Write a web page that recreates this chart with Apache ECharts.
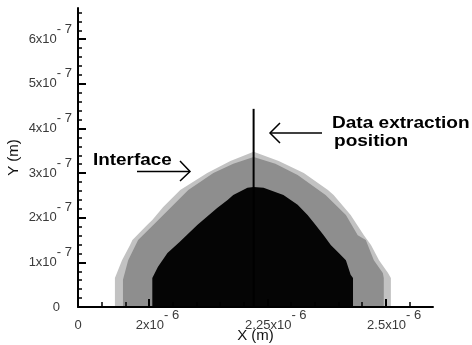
<!DOCTYPE html>
<html><head><meta charset="utf-8">
<script src="https://cdn.jsdelivr.net/npm/echarts@6/dist/echarts.min.js"></script>
<style>html,body{margin:0;padding:0;background:#fff}#c{width:472px;height:345px}</style>
</head><body><div id="c"></div>
<script>
// Units: X in 1e-6 m, Y in 1e-7 m
const outerX = [1.928, 1.928, 1.943, 1.960, 1.965, 1.996, 2.007, 2.030, 2.066, 2.123, 2.172, 2.221, 2.274, 2.327, 2.378, 2.390, 2.426, 2.454, 2.469, 2.486, 2.505, 2.511, 2.511];
const outerY = [0.00, 0.65, 1.05, 1.39, 1.50, 1.84, 1.95, 2.24, 2.62, 3.00, 3.27, 3.48, 3.27, 3.00, 2.62, 2.51, 2.06, 1.61, 1.39, 1.05, 0.76, 0.65, 0.00];

const middleX = [1.945, 1.945, 1.956, 1.977, 2.009, 2.045, 2.083, 2.115, 2.136, 2.178, 2.221, 2.267, 2.314, 2.373, 2.416, 2.441, 2.458, 2.475, 2.494, 2.496, 2.496];
const middleY = [0.00, 0.61, 1.05, 1.50, 1.84, 2.22, 2.62, 2.85, 3.00, 3.21, 3.36, 3.21, 2.96, 2.51, 2.06, 1.61, 1.50, 1.05, 0.76, 0.65, 0.00];

const innerX = [2.007, 2.007, 2.019, 2.039, 2.064, 2.102, 2.144, 2.166, 2.178, 2.208, 2.221, 2.242, 2.284, 2.314, 2.335, 2.352, 2.369, 2.384, 2.401, 2.416, 2.426, 2.431, 2.431];
const innerY = [0.00, 0.65, 0.90, 1.21, 1.45, 1.84, 2.22, 2.40, 2.51, 2.67, 2.69, 2.67, 2.51, 2.29, 2.06, 1.84, 1.61, 1.39, 1.21, 1.05, 0.72, 0.65, 0.00];

const probeX = [2.221, 2.221];
const probeY = [0.00, 4.44];

const xTickValues = [1.85, 2.0, 2.25, 2.5];
const xTickLabels = [['0', ''], ['2x10', '- 6'], ['2.25x10', '- 6'], ['2.5x10', '- 6']];
const xMajorTicks = [2.0, 2.25, 2.5];
const xMinorTicks = [1.9, 1.95, 2.05, 2.1, 2.15, 2.2, 2.3, 2.35, 2.4, 2.45, 2.55];

const yTickValues = [0, 1, 2, 3, 4, 5, 6];
const yTickLabels = [['0', ''], ['1x10', '- 7'], ['2x10', '- 7'], ['3x10', '- 7'], ['4x10', '- 7'], ['5x10', '- 7'], ['6x10', '- 7']];
const yMajorTicks = [1, 2, 3, 4, 5, 6];
const yMinorTicks = [0.2, 0.4, 0.6, 0.8, 1.2, 1.4, 1.6, 1.8, 2.2, 2.4, 2.6, 2.8, 3.2, 3.4, 3.6, 3.8, 4.2, 4.4, 4.6, 4.8, 5.2, 5.4, 5.6, 5.8, 6.2, 6.4, 6.6];

const FONT = '"Liberation Sans", Arial, sans-serif';
const LABEL_COLOR = '#3a3a3a';

function pairs(xs, ys) { return xs.map((x, i) => [x, ys[i]]); }
function nearest(arr, v) {
  let best = 0;
  for (let i = 1; i < arr.length; i++) if (Math.abs(arr[i] - v) < Math.abs(arr[best] - v)) best = i;
  return best;
}
function makeFormatter(values, labels) {
  return function (v) {
    const [m, e] = labels[nearest(values, v)];
    return e ? '{m|' + m + '}{e|' + e + '}' : '{z|' + m + '}';
  };
}

function area(xs, ys, color, z) {
  return {
    type: 'line', data: pairs(xs, ys), symbol: 'none', silent: true, z: z,
    lineStyle: { width: 0, opacity: 0 },
    areaStyle: { color: color, opacity: 1 }
  };
}

const chart = echarts.init(document.getElementById('c'), null, { renderer: 'canvas' });
chart.setOption({
  animation: false,
  backgroundColor: '#ffffff',
  grid: { left: 78, right: 39, top: 8, bottom: 38, containLabel: false, outerBoundsMode: 'none' },
  xAxis: [{
    type: 'value', min: 1.85, max: 2.6, position: 'bottom', z: 5,
    axisLine: { show: true, onZero: false, lineStyle: { color: '#000', width: 2 } },
    axisTick: { show: true, inside: true, length: 8, customValues: xMajorTicks, lineStyle: { color: '#000', width: 2 } },
    axisLabel: {
      show: true, customValues: xTickValues, margin: 2, fontFamily: FONT, hideOverlap: false,
      formatter: makeFormatter(xTickValues, xTickLabels),
      rich: {
        m: { fontSize: 13, fontFamily: FONT, color: LABEL_COLOR, padding: [0, 0, 0, 17] },
        e: { fontSize: 13, fontFamily: FONT, color: LABEL_COLOR, padding: [0, 0, 20, 0] },
        z: { fontSize: 13, fontFamily: FONT, color: LABEL_COLOR, padding: [10, 0, 10, 0] }
      }
    },
    splitLine: { show: false },
    name: 'X (m)', nameLocation: 'middle', nameGap: 21, nameMoveOverlap: false,
    nameTextStyle: { fontSize: 15, color: '#111', fontFamily: FONT }
  }, {
    type: 'value', min: 1.85, max: 2.6, position: 'bottom', z: 5,
    axisLine: { show: false },
    axisTick: { show: true, inside: true, length: 5, customValues: xMinorTicks, lineStyle: { color: '#000', width: 1.5 } },
    axisLabel: { show: false },
    splitLine: { show: false }
  }],
  yAxis: [{
    type: 'value', min: 0, max: 6.7, position: 'left', z: 5,
    axisLine: { show: true, onZero: false, lineStyle: { color: '#000', width: 2 } },
    axisTick: { show: true, inside: true, length: 8, customValues: yMajorTicks, lineStyle: { color: '#000', width: 2 } },
    axisLabel: {
      show: true, customValues: yTickValues, margin: 6, fontFamily: FONT, hideOverlap: false,
      formatter: makeFormatter(yTickValues, yTickLabels),
      rich: {
        m: { fontSize: 13, fontFamily: FONT, color: LABEL_COLOR },
        e: { fontSize: 13, fontFamily: FONT, color: LABEL_COLOR, padding: [0, 0, 20, 0] },
        z: { fontSize: 13, fontFamily: FONT, color: LABEL_COLOR, padding: [10, 12, 10, 0] }
      }
    },
    splitLine: { show: false },
    name: 'Y (m)', nameLocation: 'middle', nameGap: 57, nameRotate: 90, nameMoveOverlap: false,
    nameTextStyle: { fontSize: 15, color: '#111', fontFamily: FONT }
  }, {
    type: 'value', min: 0, max: 6.7, position: 'left', z: 5,
    axisLine: { show: false },
    axisTick: { show: true, inside: true, length: 4, customValues: yMinorTicks, lineStyle: { color: '#000', width: 1.5 } },
    axisLabel: { show: false },
    splitLine: { show: false }
  }],
  series: [
    area(outerX, outerY, '#c2c2c2', 1),
    area(middleX, middleY, '#8e8e8e', 2),
    area(innerX, innerY, '#050505', 3),
    {
      type: 'line', data: pairs(probeX, probeY), symbol: 'none', silent: true, z: 4,
      lineStyle: { color: '#000', width: 2 }
    }
  ],
  graphic: [
    { type: 'text', left: 93, top: 153, scaleX: 1.18, style: { text: 'Interface', font: 'bold 16px ' + FONT, fill: '#000' } },
    { type: 'polyline', shape: { points: [[137, 171.5], [190, 171.5]] }, style: { stroke: '#000', lineWidth: 1.5, fill: null } },
    { type: 'polyline', shape: { points: [[180, 161], [190, 171.5], [180, 181]] }, style: { stroke: '#000', lineWidth: 1.5, fill: null } },
    { type: 'text', x: 332, y: 116, scaleX: 1.19, style: { text: 'Data extraction', font: 'bold 16px ' + FONT, fill: '#000' } },
    { type: 'text', x: 334, y: 134, scaleX: 1.19, style: { text: 'position', font: 'bold 16px ' + FONT, fill: '#000' } },
    { type: 'polyline', shape: { points: [[270, 133], [322, 133]] }, style: { stroke: '#000', lineWidth: 1.5, fill: null } },
    { type: 'polyline', shape: { points: [[280, 123], [270, 133], [280, 143]] }, style: { stroke: '#000', lineWidth: 1.5, fill: null } }
  ]
});
</script>
</body></html>
